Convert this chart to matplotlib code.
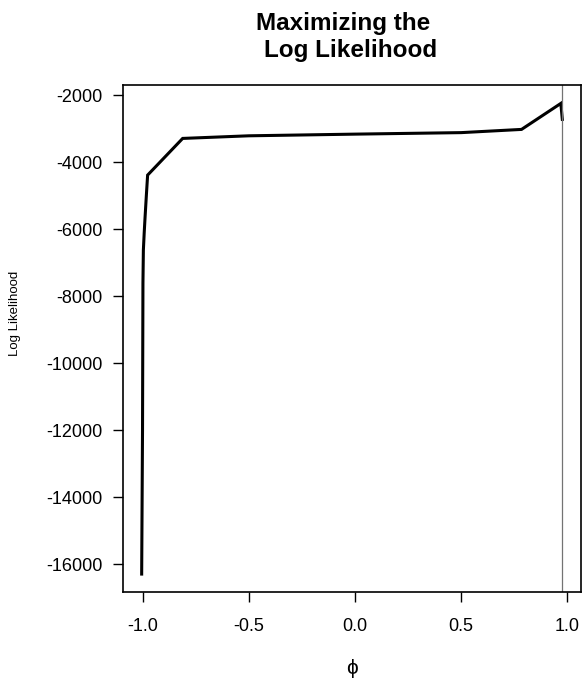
import matplotlib
matplotlib.use("Agg")
import matplotlib.pyplot as plt

plt.rcParams['font.family'] = ['Liberation Sans', 'DejaVu Sans']

# phi values and log likelihood
phi = [-1.004, -1.0, -0.998, -0.996, -0.992, -0.988, -0.982, -0.976,
       -0.811, -0.5, 0.0, 0.5, 0.784, 0.969, 0.972, 0.976]
loglik = [-16300, -12000, -7612, -6627, -6100, -5642, -5000, -4388,
          -3293, -3215, -3165, -3120, -3024, -2248, -2450, -2725]
phi_max = 0.975

xticks = [-1.0, -0.5, 0.0, 0.5, 1.0]
yticks = [-2000, -4000, -6000, -8000, -10000, -12000, -14000, -16000]

fig = plt.figure(figsize=(5.82, 6.86), dpi=100)
ax = fig.add_axes([0.2113, 0.137, 0.787, 0.739])

ax.plot(phi, loglik, color='black', lw=2.2, solid_joinstyle='miter')
ax.axvline(phi_max, color='0.45', lw=0.9)

ax.set_xlim(-1.092, 1.064)
ax.set_ylim(-16836, -1700)
ax.set_xticks(xticks)
ax.set_xticklabels(['%.1f' % v for v in xticks])
ax.set_yticks(yticks)
ax.set_yticklabels([str(v) for v in yticks])
ax.tick_params(direction='out', length=7, width=1, labelsize=13, pad=8)
ax.tick_params(axis='x', pad=12)
for s in ax.spines.values():
    s.set_linewidth(1.2)

ax.set_ylabel('Log Likelihood', fontsize=9.5)
ax.yaxis.set_label_coords(-0.222, 0.55)
ax.set_xlabel('\u03d5', fontsize=15)
ax.xaxis.set_label_coords(0.5, -0.132)

# two title lines, each centred on its own like the original
fig.text(0.590, 0.9563, 'Maximizing the', fontsize=17.5, fontweight='bold',
         ha='center', va='baseline')
fig.text(0.603, 0.9169, 'Log Likelihood', fontsize=17.5, fontweight='bold',
         ha='center', va='baseline')

fig.savefig('out.png', dpi=100)
